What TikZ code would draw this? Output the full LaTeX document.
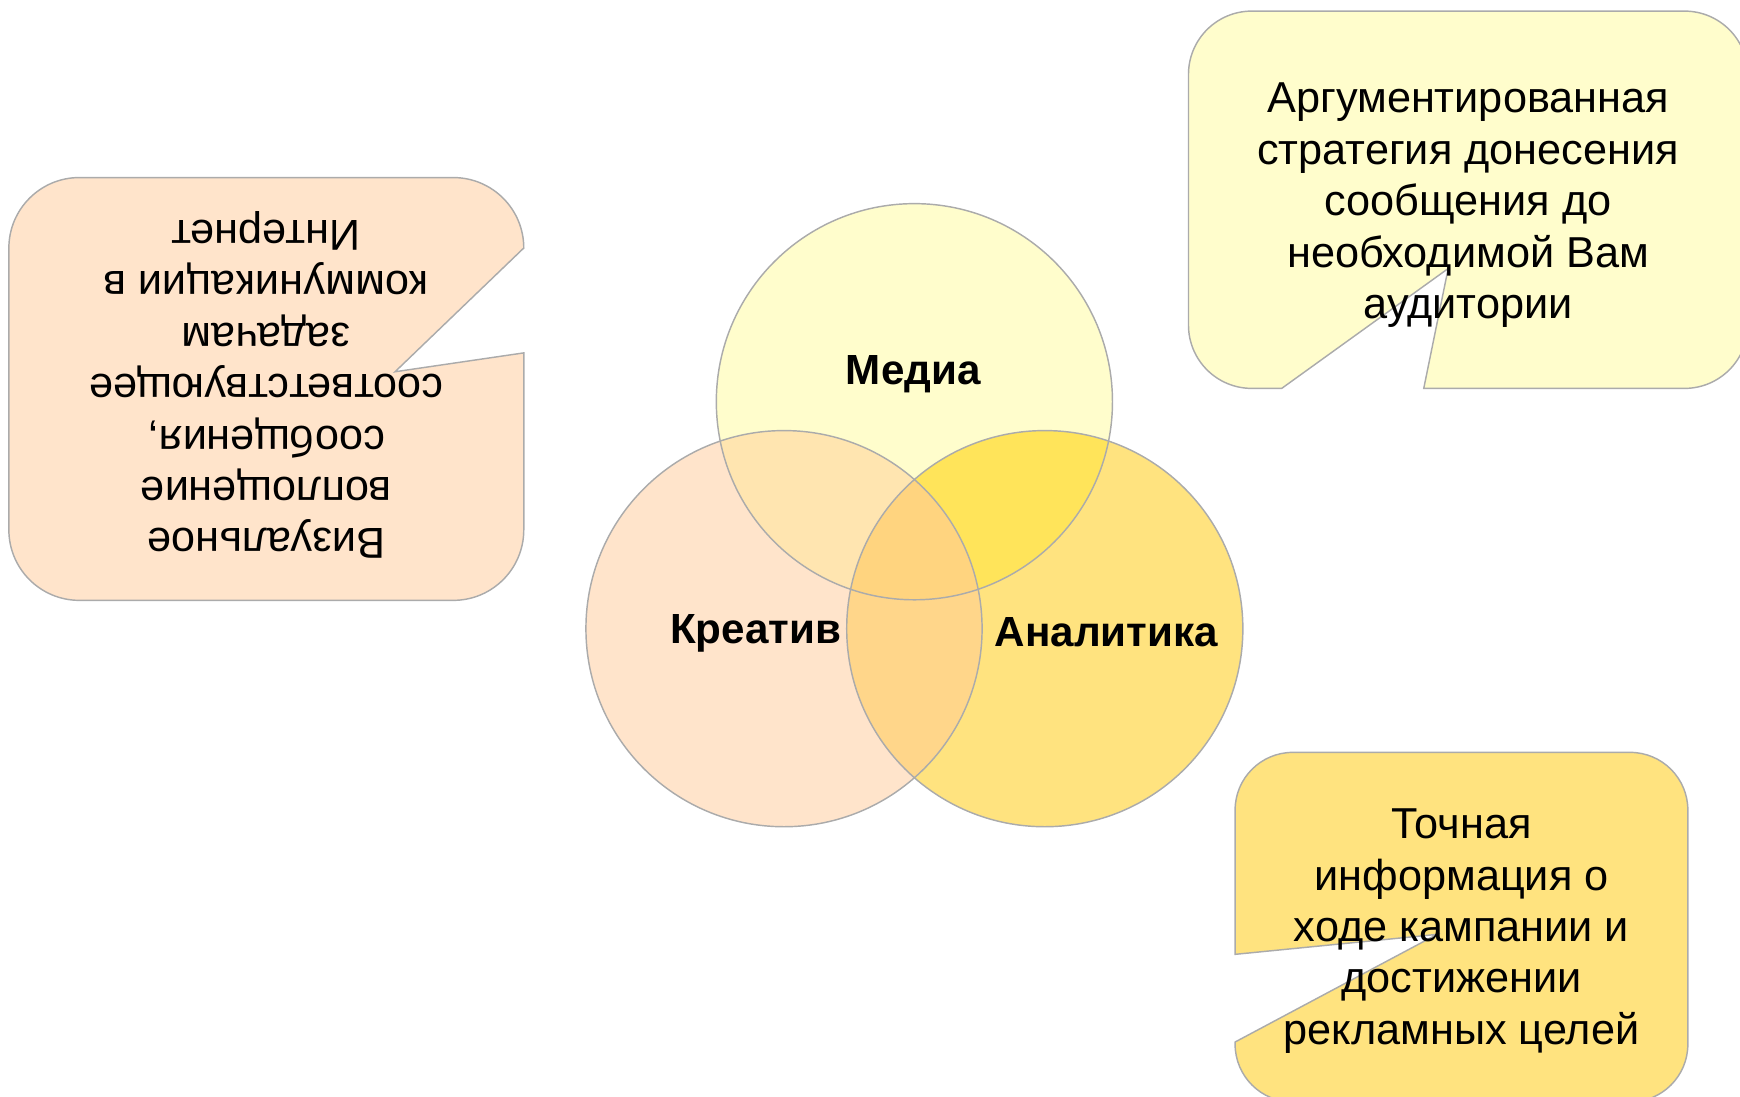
\documentclass[tikz,border=0pt]{standalone}
\usepackage{fontspec}
\setmainfont{Liberation Sans}
\definecolor{medyel}{HTML}{FFFDCC}
\definecolor{krepeach}{HTML}{FFE4CB}
\definecolor{anagold}{HTML}{FFE37F}
\definecolor{mkfill}{HTML}{FFE5B0}
\definecolor{mafill}{HTML}{FFE45A}
\definecolor{kafill}{HTML}{FFD68A}
\definecolor{mkafill}{HTML}{FFD47F}
\definecolor{edgegray}{HTML}{ABABAB}
\begin{document}
\begin{tikzpicture}[x=1pt,y=-1pt,
  bubble/.style={draw=edgegray,line width=1.3pt},
  ring/.style={draw=edgegray,line width=1.3pt},
  blurb/.style={align=center,inner sep=0pt,font=\fontsize{39}{46.3}\selectfont},
  tag/.style={inner sep=0pt,font=\bfseries\fontsize{38}{44}\selectfont}]
  \useasboundingbox (0,0) rectangle (1568,988);

  % callouts
  \draw[bubble,fill=krepeach] (71.5,160) -- (408.5,160) arc[start angle=-90,end angle=0,radius=63.5]
    -- (356,335) -- (472,318) -- (472,477.5) arc[start angle=0,end angle=90,radius=63.5]
    -- (71.5,541) arc[start angle=90,end angle=180,radius=63.5]
    -- (8,223.5) arc[start angle=180,end angle=270,radius=63.5] -- cycle;
  \draw[bubble,fill=medyel] (1128,10) -- (1518,10) arc[start angle=-90,end angle=0,radius=57]
    -- (1575,293) arc[start angle=0,end angle=90,radius=57]
    -- (1283,350) -- (1305,242) -- (1155,350) -- (1128,350) arc[start angle=90,end angle=180,radius=57]
    -- (1071,67) arc[start angle=180,end angle=270,radius=57] -- cycle;
  \draw[bubble,fill=anagold] (1165,678) -- (1469,678) arc[start angle=-90,end angle=0,radius=52]
    -- (1521,941) arc[start angle=0,end angle=90,radius=52]
    -- (1165,993) arc[start angle=90,end angle=180,radius=52]
    -- (1113,939) -- (1295,842) -- (1113,860) -- (1113,730) arc[start angle=180,end angle=270,radius=52] -- cycle;

  \node[blurb,rotate=180] (visual) at (240,347)
    {Визуальное\\воплощение\\сообщения,\\соответствующее\\задачам\\коммуникации в\\Интернет};
  \node[blurb] (strategy) at (1323,185)
    {Аргументированная\\стратегия донесения\\сообщения до\\необходимой Вам\\аудитории};
  \node[blurb] (precise) at (1317,839)
    {Точная\\информация о\\ходе кампании и\\достижении\\рекламных целей};

  % venn
  \coordinate (med) at (824,362);
  \coordinate (kre) at (706.5,566.5);
  \coordinate (ana) at (941.5,566.5);
  \fill[medyel] (med) circle[radius=178.5];
  \fill[krepeach] (kre) circle[radius=178.5];
  \fill[anagold] (ana) circle[radius=178.5];
  \begin{scope}
    \clip (med) circle[radius=178.5];
    \fill[mkfill] (kre) circle[radius=178.5];
    \fill[mafill] (ana) circle[radius=178.5];
  \end{scope}
  \begin{scope}
    \clip (kre) circle[radius=178.5];
    \fill[kafill] (ana) circle[radius=178.5];
    \clip (med) circle[radius=178.5];
    \fill[mkafill] (ana) circle[radius=178.5];
  \end{scope}
  \foreach \c in {med,kre,ana}
    \draw[ring] (\c) circle[radius=178.5];

  \node[tag] (medtag) at (823,337) {Медиа};
  \node[tag] (kretag) at (681,571) {Креатив};
  \node[tag] (anatag) at (997,570) {Аналитика};
\end{tikzpicture}
\end{document}
